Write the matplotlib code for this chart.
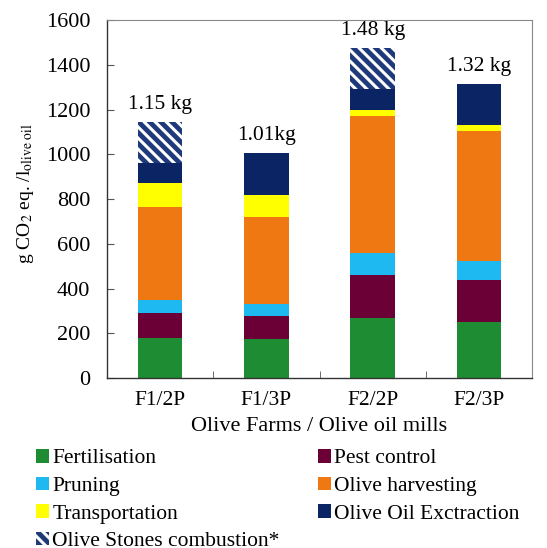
import matplotlib
matplotlib.use('Agg')
import matplotlib.pyplot as plt
import numpy as np
from matplotlib.patches import Patch

plt.rcParams['font.family'] = ['Liberation Serif', 'DejaVu Serif']
plt.rcParams['mathtext.fontset'] = 'stix'
plt.rcParams['hatch.linewidth'] = 2.2

farms = ['F1/2P', 'F1/3P', 'F2/2P', 'F2/3P']
fertilisation = [180, 173, 267, 252]
pest_control = [109, 106, 194, 186]
pruning = [60, 52, 97, 87]
harvesting = [417, 388, 611, 577]
transportation = [107, 99, 30, 30]
extraction = [87, 187, 92, 183]
stones = [186, 0, 184, 0]
totals_txt = ['1.15 kg', '1.01kg', '1.48 kg', '1.32 kg']

series = [
    ('Fertilisation', fertilisation, '#1e8c32'),
    ('Pest control', pest_control, '#6b0036'),
    ('Pruning', pruning, '#1eb9f0'),
    ('Olive harvesting', harvesting, '#f07812'),
    ('Transportation', transportation, '#ffff00'),
    ('Olive Oil Exctraction', extraction, '#0a2464'),
]

fig = plt.figure(figsize=(5.47, 5.48), dpi=100)
ax = fig.add_axes([0.1956, 0.310, 0.777, 0.6535])

x = np.arange(len(farms))
w = 0.42
bottom = np.zeros(len(farms))
handles = {}
for name, vals, col in series:
    ax.bar(x, vals, w, bottom=bottom, color=col, linewidth=0)
    handles[name] = Patch(facecolor=col, label=name)
    bottom += np.array(vals)

ax.bar(x, stones, w, bottom=bottom, facecolor='#1f3a7a', edgecolor='white',
       hatch='\\\\\\', linewidth=0)
handles['Olive Stones combustion*'] = Patch(facecolor='#1f3a7a', edgecolor='white',
                                            hatch='\\\\\\', linewidth=0,
                                            label='Olive Stones combustion*')
bottom += np.array(stones)

# total labels above bars
for i, t in enumerate(totals_txt):
    ax.text(x[i], bottom[i] + 36, t, ha='center', va='bottom', fontsize=15.5)

ax.set_xlim(-0.5, 3.5)
ax.set_ylim(0, 1600)
ax.set_yticks(range(0, 1601, 200))
ax.set_xticks(x)
ax.set_xticklabels(farms, fontsize=15.5)
ax.set_xticks([0.5, 1.5, 2.5], minor=True)
ax.tick_params(axis='x', which='major', length=0, pad=9)
ax.tick_params(axis='x', which='minor', direction='in', length=5, color='#555555')
ax.tick_params(axis='y', direction='in', length=5, labelsize=16, pad=12, color='#555555')
for s in ['top', 'right']:
    ax.spines[s].set_color('#888888')
    ax.spines[s].set_linewidth(0.8)
for s in ['left', 'bottom']:
    ax.spines[s].set_color('#333333')
    ax.spines[s].set_linewidth(1.0)

ax.set_xlabel('Olive Farms / Olive oil mills', fontsize=16, labelpad=5)
fig.text(25 / 547, 1 - 194 / 548, r'g CO$_2$ eq. /l$_{\mathrm{olive\ oil}}$',
         rotation=90, ha='center', va='center', fontsize=14)

order = ['Fertilisation', 'Pruning', 'Transportation', 'Olive Stones combustion*',
         'Pest control', 'Olive harvesting', 'Olive Oil Exctraction']
fig.legend([handles[k] for k in order], order, loc='upper left',
           bbox_to_anchor=(36 / 547, 1 - 449 / 548), ncol=2, frameon=False,
           fontsize=15.5, handlelength=0.6, handleheight=0.6, handletextpad=0.15,
           columnspacing=1.8, labelspacing=0.38, borderaxespad=0, borderpad=0)

fig.savefig('out.png', dpi=100)
